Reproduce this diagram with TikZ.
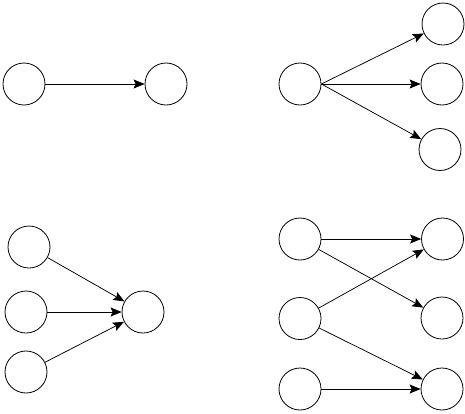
\documentclass[tikz,border=0pt]{standalone}
\usetikzlibrary{arrows.meta}
\begin{document}
\begin{tikzpicture}[x=1pt,y=-1pt,
  vtx/.style={circle,draw,line width=0.8pt,minimum size=42pt,inner sep=0pt},
  arr/.style={line width=0.75pt,-{Stealth[length=11pt,width=9pt,inset=2pt]}}]
\useasboundingbox (0,0) rectangle (465,413);
% top-left
\node[vtx] (a1) at (24,84) {};
\node[vtx] (a2) at (166,84) {};
\draw[arr] (a1) -- (a2);
% top-right
\node[vtx] (b0) at (300,84) {};
\node[vtx] (b1) at (443,24) {};
\node[vtx] (b2) at (442,84) {};
\node[vtx] (b3) at (440,149.5) {};
\draw[arr] (b0.east) -- (b1);
\draw[arr] (b0.east) -- (b2);
\draw[arr] (b0.east) -- (b3);
% bottom-left
\node[vtx] (c1) at (29,247) {};
\node[vtx] (c2) at (26,312) {};
\node[vtx] (c3) at (26,372) {};
\node[vtx] (c0) at (143,312) {};
\draw[arr] (c1) -- (c0);
\draw[arr] (c2) -- (c0);
\draw[arr] (c3) -- (c0);
% bottom-right
\node[vtx] (d1) at (300,239) {};
\node[vtx] (d2) at (300,318.5) {};
\node[vtx] (d3) at (300,389) {};
\node[vtx] (e1) at (442.5,239) {};
\node[vtx] (e2) at (442,318) {};
\node[vtx] (e3) at (442,389) {};
\draw[arr] (d1) -- (e1);
\draw[arr] (d1) -- (e2);
\draw[arr] (d2) -- (e1);
\draw[arr] (d2) -- (e3);
\draw[arr] (d3) -- (e3);
\end{tikzpicture}
\end{document}
